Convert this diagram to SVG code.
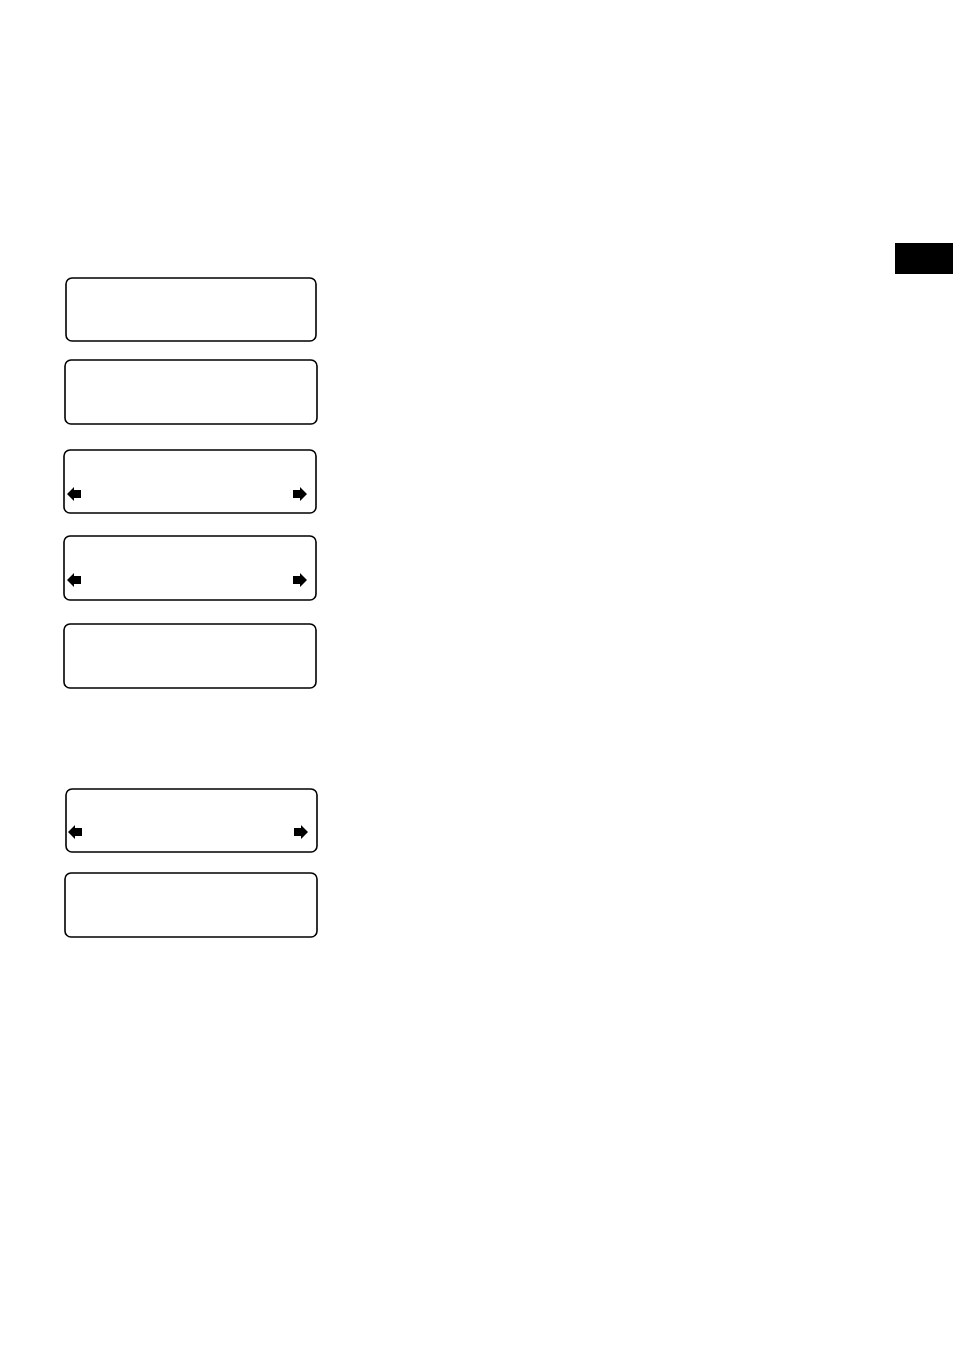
<svg xmlns="http://www.w3.org/2000/svg" width="953" height="1352" viewBox="0 0 953 1352">
<style>
.box{fill:#fff;stroke:#000;stroke-width:1.6}
.arr{fill:#000}
</style>
<defs>
<path id="arrL" d="M0 0 L7 -7 L7 -4 L14 -4 L14 4 L7 4 L7 7 Z"/>
<path id="arrR" d="M0 0 L-7 -7 L-7 -4 L-14 -4 L-14 4 L-7 4 L-7 7 Z"/>
</defs>
<rect x="0" y="0" width="953" height="1352" fill="#fff"/>
<rect id="tab" x="895" y="243" width="58" height="31" fill="#000"/>
<g id="node1"><rect class="box" x="66" y="278" width="250" height="63" rx="6"/></g>
<g id="node2"><rect class="box" x="65" y="360" width="252" height="64" rx="6"/></g>
<g id="node3"><rect class="box" x="64" y="450" width="252" height="63" rx="6"/>
<use href="#arrL" class="arr" x="67" y="494"/><use href="#arrR" class="arr" x="307" y="494"/></g>
<g id="node4"><rect class="box" x="64" y="536" width="252" height="64" rx="6"/>
<use href="#arrL" class="arr" x="67" y="580"/><use href="#arrR" class="arr" x="307" y="580"/></g>
<g id="node5"><rect class="box" x="64" y="624" width="252" height="64" rx="6"/></g>
<g id="node6"><rect class="box" x="66" y="789" width="251" height="63" rx="6"/>
<use href="#arrL" class="arr" x="68" y="832"/><use href="#arrR" class="arr" x="308" y="832"/></g>
<g id="node7"><rect class="box" x="65" y="873" width="252" height="64" rx="6"/></g>
<g id="connectors"></g>
</svg>
